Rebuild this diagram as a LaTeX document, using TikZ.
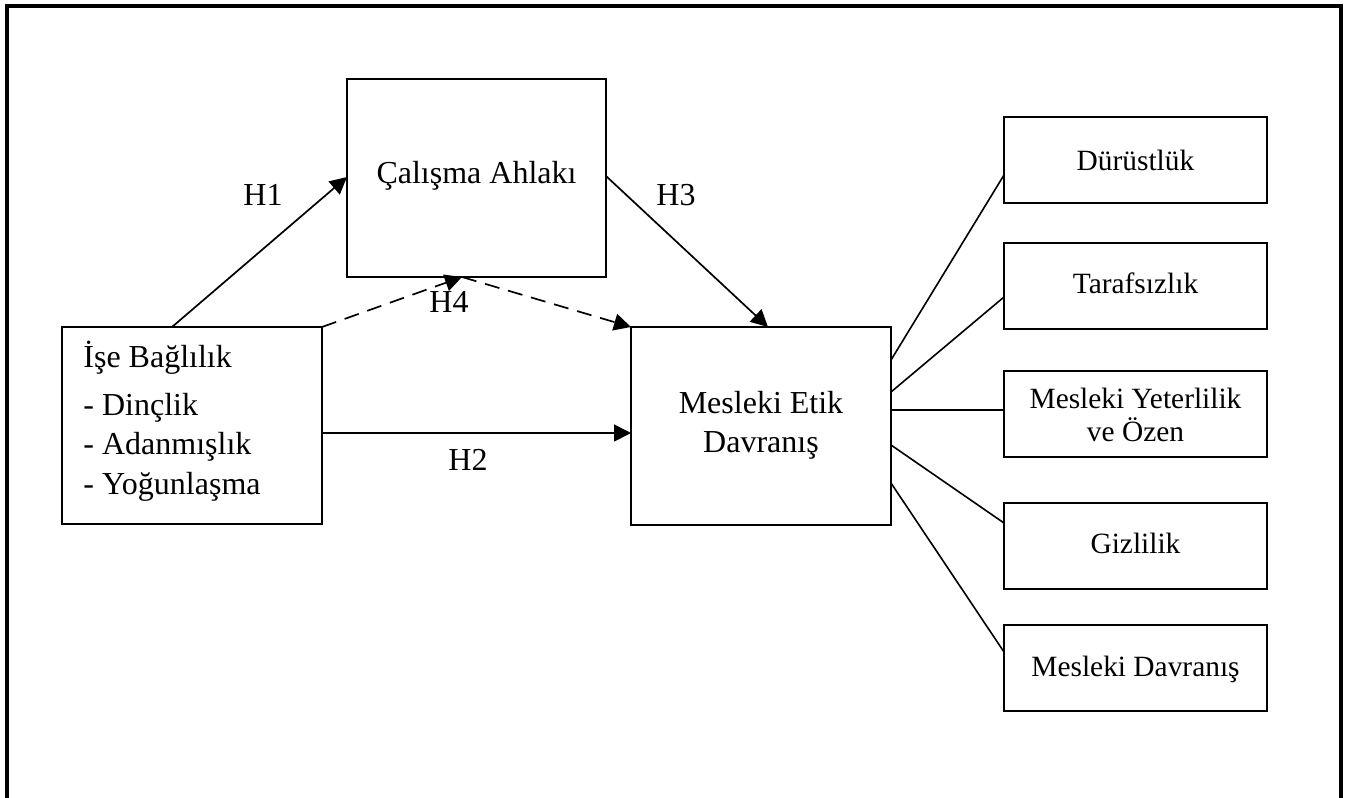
\documentclass[tikz,border=0pt]{standalone}
\usepackage{fontspec}
\setmainfont{Liberation Serif}
\usetikzlibrary{arrows.meta}
\begin{document}
\begin{tikzpicture}[x=0.5pt,y=-0.5pt,
  box/.style={draw,line width=0.85pt,inner sep=0pt,outer sep=0pt},
  bigbox/.style={box,minimum width=130pt,minimum height=99pt},
  subbox/.style={box,minimum width=131.5pt,minimum height=43pt},
  txt/.style={font=\fontsize{16}{19}\selectfont,inner sep=0pt,anchor=base},
  subtxt/.style={txt,font=\fontsize{14.7}{17}\selectfont},
  arr/.style={line width=0.85pt,-{Triangle[length=8.5pt,width=8.5pt]}},
  dsh/.style={arr,dash pattern=on 7.5pt off 4.5pt},
  link/.style={line width=0.8pt}]
\useasboundingbox (0,0) rectangle (1350,798);

% outer frame, open at the bottom
\draw[line width=2pt] (7,798) -- (7,5.5) -- (1341,5.5) -- (1341,798);

% main constructs
\node[bigbox,minimum height=98.5pt] (ise) at (192,425.5) {};
\node[bigbox,minimum width=129.5pt] (cal) at (476.5,178) {};
\node[bigbox] (met) at (761,426) {};

\node[txt,anchor=base west] (iset) at (83,367) {İşe Bağlılık};
\node[txt,anchor=base west] (ise1) at (83,415) {- Dinçlik};
\node[txt,anchor=base west] (ise2) at (83,454) {- Adanmışlık};
\node[txt,anchor=base west] (ise3) at (83,494) {- Yoğunlaşma};

\node[txt] (calt) at (476.5,183) {Çalışma Ahlakı};

\node[txt] (met1) at (761,413) {Mesleki Etik};
\node[txt] (met2) at (761,452) {Davranış};

% dimensions of ethical behaviour
\node[subbox] (d1) at (1135.5,160) {};
\node[subbox] (d2) at (1135.5,286) {};
\node[subbox] (d3) at (1135.5,414) {};
\node[subbox] (d4) at (1135.5,546) {};
\node[subbox] (d5) at (1135.5,668) {};

\node[subtxt] (d1t) at (1135.5,170) {Dürüstlük};
\node[subtxt] (d2t) at (1135.5,293) {Tarafsızlık};
\node[subtxt] (d3a) at (1135.5,408) {Mesleki Yeterlilik};
\node[subtxt] (d3b) at (1135.5,441) {ve Özen};
\node[subtxt] (d4t) at (1135.5,553) {Gizlilik};
\node[subtxt] (d5t) at (1135.5,676) {Mesleki Davranış};

% hypotheses
\draw[arr] (172,0 |- ise.north) -- (cal.west |- 0,177);
\draw[arr] (cal.east |- 0,176) -- (768,0 |- met.north);
\draw[arr] (ise.east |- 0,433) -- (met.west |- 0,433);
\coordinate (h4m) at (462,0 |- cal.south);
\draw[dsh] (ise.north east) -- (h4m);
\draw[dsh] (h4m) -- (met.north west);

\node[txt] (h1) at (263,205) {H1};
\node[txt] (h3) at (676,205) {H3};
\node[txt] (h2) at (468,470) {H2};
\node[txt] (h4) at (449,312) {H4};

% links to the dimensions
\draw[link] (met.east |- 0,360) -- (d1.west |- 0,175);
\draw[link] (met.east |- 0,392) -- (d2.west |- 0,297);
\draw[link] (met.east |- 0,410) -- (d3.west |- 0,410);
\draw[link] (met.east |- 0,445) -- (d4.west |- 0,523);
\draw[link] (met.east |- 0,483) -- (d5.west |- 0,652);
\end{tikzpicture}
\end{document}
